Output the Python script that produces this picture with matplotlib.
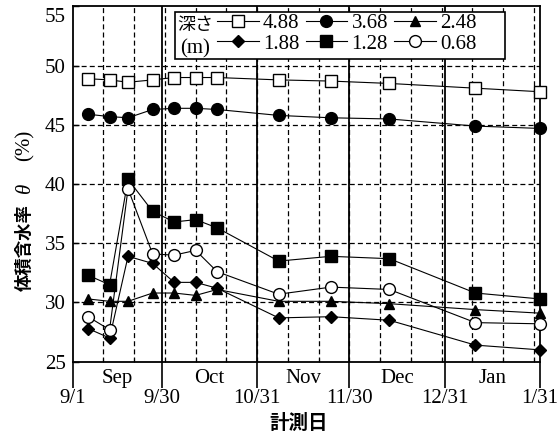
import numpy as np
import matplotlib
matplotlib.use('Agg')
import matplotlib.pyplot as plt
import matplotlib.transforms as mtrans
from matplotlib.patches import Rectangle

plt.rcParams['font.family'] = ['Liberation Serif', 'DejaVu Serif']

# 計測日 (measurement dates)
start = np.datetime64('2000-09-01')
sokutei = ['2000-09-06', '2000-09-13', '2000-09-19', '2000-09-27', '2000-10-04',
           '2000-10-11', '2000-10-18', '2000-11-07', '2000-11-24', '2000-12-13',
           '2001-01-10', '2001-01-31']

# 体積含水率 θ (%) per depth
d488 = [48.9, 48.8, 48.6, 48.8, 49.0, 49.0, 49.0, 48.8, 48.7, 48.5, 48.1, 47.8]
d368 = [45.9, 45.7, 45.6, 46.3, 46.4, 46.4, 46.3, 45.8, 45.6, 45.5, 44.9, 44.7]
d248 = [30.3, 30.1, 30.1, 30.8, 30.8, 30.6, 31.1, 30.1, 30.1, 29.9, 29.4, 29.1]
d188 = [27.8, 27.0, 33.9, 33.3, 31.7, 31.7, 31.2, 28.7, 28.8, 28.5, 26.4, 26.0]
d128 = [32.3, 31.5, 40.4, 37.7, 36.8, 37.0, 36.3, 33.5, 33.9, 33.7, 30.8, 30.3]
d068 = [28.8, 27.7, 39.6, 34.1, 34.0, 34.4, 32.6, 30.7, 31.3, 31.1, 28.3, 28.2]

tick_dates = ['2000-09-01', '2000-09-30', '2000-10-31', '2000-11-30', '2000-12-31', '2001-01-31']
tick_labels = ['9/1', '9/30', '10/31', '11/30', '12/31', '1/31']
months = ['Sep', 'Oct', 'Nov', 'Dec', 'Jan']


def days(d):
    return (np.array(d, dtype='datetime64[D]') - start).astype(int)


x = days(sokutei)
xt = days(tick_dates)

fig = plt.figure(figsize=(5.57, 4.38), dpi=100)
ax = fig.add_axes([0.1305, 0.1742, 0.8390, 0.8110])
ax.set_xlim(xt[0], xt[-1])
ax.set_ylim(25, 55)

# grid: dashed every 10 days / 5 %, solid at month ends
dash = (0, (4, 2.5))
for d in range(10, int(xt[-1]), 10):
    ax.axvline(d, color='k', lw=0.9, ls=dash, zorder=1)
for d in xt[1:-1]:
    ax.axvline(d, color='k', lw=1.3, zorder=1)
for v in range(30, 55, 5):
    ax.axhline(v, color='k', lw=0.9, ls=dash, zorder=1)

kw = dict(color='k', lw=0.8, mec='k', mew=1.0, zorder=3, clip_on=False)
h488, = ax.plot(x, d488, marker='s', ms=8, mfc='white', label='4.88', **kw)
h368, = ax.plot(x, d368, marker='o', ms=8.5, mfc='k', label='3.68', **kw)
h248, = ax.plot(x, d248, marker='^', ms=7.5, mfc='k', label='2.48', **kw)
h188, = ax.plot(x, d188, marker='D', ms=6, mfc='k', label='1.88', **kw)
h128, = ax.plot(x, d128, marker='s', ms=8, mfc='k', label='1.28', **kw)
h068, = ax.plot(x, d068, marker='o', ms=8.5, mfc='white', label='0.68', **kw)

for s in ax.spines.values():
    s.set_linewidth(1.3)

ax.set_xticks(xt, tick_labels)
ax.set_xticks(range(10, int(xt[-1]), 10), minor=True)
ax.tick_params(axis='x', which='major', direction='out', length=19, width=1.2,
               labelsize=15, pad=1)
ax.tick_params(axis='x', which='minor', direction='in', length=3, width=0.8)
ax.set_yticks(range(25, 56, 5))
ax.tick_params(axis='y', direction='in', length=4, width=1.0, labelsize=15, pad=5)
# the top label sits a little lower in the original
top = ax.get_yticklabels()[-1]
top.set_transform(top.get_transform() +
                  mtrans.ScaledTranslation(0, -9 / 100, fig.dpi_scale_trans))

# month names under the axis
trans = mtrans.blended_transform_factory(ax.transData, ax.transAxes)
for i, m in enumerate(months):
    ax.text((xt[i] + xt[i + 1]) / 2, -0.046, m, transform=trans,
            ha='center', va='center', fontsize=15)

# legend box
box = Rectangle((0.219, 0.852), 0.706, 0.1325, transform=ax.transAxes,
                facecolor='white', edgecolor='k', lw=1.2, zorder=4)
ax.add_patch(box)
ax.text(0.262, 0.948, '深さ', transform=ax.transAxes, ha='center', va='center',
        fontsize=13, family=['Noto Sans CJK JP'], zorder=6)
ax.text(0.262, 0.882, '(m)', transform=ax.transAxes, ha='center', va='center',
        fontsize=15, zorder=6)
leg = ax.legend(handles=[h488, h188, h368, h128, h248, h068], ncol=3,
                loc='upper left', bbox_to_anchor=(0.300, 0.992), frameon=False,
                fontsize=15, handlelength=2.0, handletextpad=0.2,
                columnspacing=0.3, borderaxespad=0, borderpad=0.2,
                labelspacing=0.05)
leg.set_zorder(6)

# axis titles
fig.text(25 / 557, 1 - 248 / 438, '体積含水率', rotation=90, ha='center', va='center',
         fontsize=12.5, family=['Noto Sans CJK JP'], fontweight='bold')
fig.text(25 / 557, 1 - 188 / 438, 'θ', rotation=90, ha='center', va='center',
         fontsize=15, style='italic')
fig.text(25 / 557, 1 - 145 / 438, '(%)', rotation=90, ha='center', va='center',
         fontsize=15)
fig.text(299 / 557, 1 - 423 / 438, '計測日', ha='center', va='center',
         fontsize=14, family=['Noto Sans CJK JP'], fontweight='bold')

fig.savefig('out.png', dpi=100)
